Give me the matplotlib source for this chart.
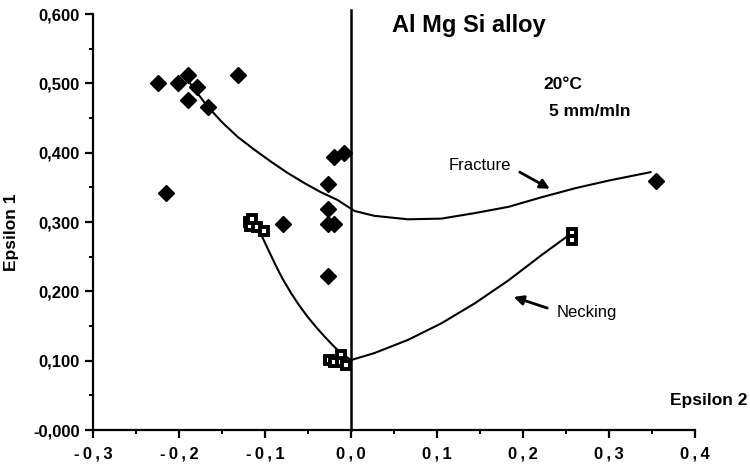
import matplotlib.pyplot as plt
from matplotlib.ticker import MultipleLocator, FixedLocator

plt.rcParams['font.family'] = ['Liberation Sans', 'DejaVu Sans']
plt.rcParams['font.weight'] = 'bold'

# Fracture points (diamonds)
frac_x = [-0.225, -0.201, -0.189, -0.179, -0.189, -0.166, -0.132, -0.215,
          -0.020, -0.008, -0.027, -0.027, -0.027, -0.020, -0.079, -0.027, 0.354]
frac_y = [0.501, 0.500, 0.512, 0.495, 0.476, 0.466, 0.512, 0.342,
          0.394, 0.400, 0.355, 0.319, 0.297, 0.297, 0.297, 0.222, 0.359]

# Necking points (squares)
neck_x = [-0.119, -0.118, -0.115, -0.109, -0.101,
          -0.026, -0.020, -0.012, -0.012, -0.006, 0.257, 0.257]
neck_y = [0.300, 0.295, 0.305, 0.293, 0.287,
          0.101, 0.098, 0.108, 0.098, 0.094, 0.284, 0.274]

# Fitted curves
frac_curve_x = [-0.193, -0.180, -0.167, -0.150, -0.132, -0.112, -0.093, -0.074,
                -0.054, -0.035, -0.016, 0.004, 0.027, 0.066, 0.105, 0.144,
                0.183, 0.222, 0.261, 0.300, 0.348]
frac_curve_y = [0.510, 0.488, 0.467, 0.444, 0.423, 0.404, 0.387, 0.371,
                0.356, 0.343, 0.332, 0.316, 0.309, 0.304, 0.305, 0.313,
                0.322, 0.336, 0.349, 0.360, 0.372]

neck_curve_x = [-0.105, -0.097, -0.089, -0.080, -0.070, -0.061, -0.051,
                -0.041, -0.031, -0.021, -0.012, 0.000, 0.027, 0.066,
                0.105, 0.144, 0.183, 0.222, 0.253]
neck_curve_y = [0.283, 0.262, 0.241, 0.219, 0.198, 0.181, 0.164,
                0.149, 0.135, 0.122, 0.111, 0.101, 0.111, 0.130,
                0.154, 0.183, 0.216, 0.253, 0.281]

x_ticks = [-0.3, -0.2, -0.1, 0.0, 0.1, 0.2, 0.3, 0.4]
x_labels = ['-0,3', '-0,2', '-0,1', '0,0', '0,1', '0,2', '0,3', '0,4']
y_ticks = [0.0, 0.1, 0.2, 0.3, 0.4, 0.5, 0.6]
y_labels = ['-0,000', '0,100', '0,200', '0,300', '0,400', '0,500', '0,600']

fig = plt.figure(figsize=(7.5, 4.69), dpi=100)
ax = fig.add_axes([0.124, 0.083, 0.803, 0.887])

ax.plot(frac_curve_x, frac_curve_y, color='black', lw=1.5, solid_joinstyle='round')
ax.plot(neck_curve_x, neck_curve_y, color='black', lw=1.5, solid_joinstyle='round')
ax.plot(frac_x, frac_y, 'D', color='black', markersize=7.8, clip_on=False)
ax.plot(neck_x, neck_y, 's', markerfacecolor='white', markeredgecolor='black',
        markeredgewidth=2.8, markersize=5.2, clip_on=False)

# vertical line at epsilon 2 = 0
ax.plot([0, 0], [0, 0.606], color='black', lw=1.8, clip_on=False)

ax.set_xlim(-0.3, 0.4)
ax.set_ylim(0, 0.6)
ax.spines['top'].set_visible(False)
ax.spines['right'].set_visible(False)
ax.spines['left'].set_linewidth(1.6)
ax.spines['bottom'].set_linewidth(1.6)

ax.xaxis.set_major_locator(FixedLocator(x_ticks))
ax.set_xticklabels([s.replace(',', '\u2009,\u2009').replace('-', '-\u2009') for s in x_labels])
ax.xaxis.set_minor_locator(MultipleLocator(0.05))
ax.yaxis.set_major_locator(FixedLocator(y_ticks))
ax.set_yticklabels(y_labels)
ax.yaxis.set_minor_locator(MultipleLocator(0.05))
ax.tick_params(which='major', direction='out', length=6, width=1.6, labelsize=12)
ax.tick_params(which='minor', direction='out', length=3, width=1.4)
ax.tick_params(axis='x', pad=6)
for lab in ax.get_xticklabels() + ax.get_yticklabels():
    lab.set_fontweight('bold')

ax.text(0.048, 0.584, 'Al Mg Si alloy', fontsize=17, fontweight='bold', va='center')
ax.text(0.223, 0.498, '20°C', fontsize=12.5, fontweight='bold', va='center')
ax.text(0.230, 0.460, '5 mm/mln', fontsize=12.5, fontweight='bold', va='center')

ax.text(0.113, 0.382, 'Fracture', fontsize=12, fontweight='normal', va='center')
ax.text(0.239, 0.169, 'Necking', fontsize=12, fontweight='normal', va='center')
ax.annotate('', xy=(0.231, 0.348), xytext=(0.196, 0.372),
            arrowprops=dict(arrowstyle='-|>', color='black', lw=2,
                            shrinkA=0, shrinkB=0, mutation_scale=14))
ax.annotate('', xy=(0.189, 0.192), xytext=(0.228, 0.176),
            arrowprops=dict(arrowstyle='-|>', color='black', lw=2,
                            shrinkA=0, shrinkB=0, mutation_scale=14))

fig.text(0.016, 0.505, 'Epsilon 1', rotation=90, fontsize=12.5, fontweight='bold',
         ha='center', va='center')
fig.text(0.997, 0.147, 'Epsilon 2', fontsize=12.5, fontweight='bold',
         ha='right', va='center')

fig.savefig('out.png', dpi=100)
